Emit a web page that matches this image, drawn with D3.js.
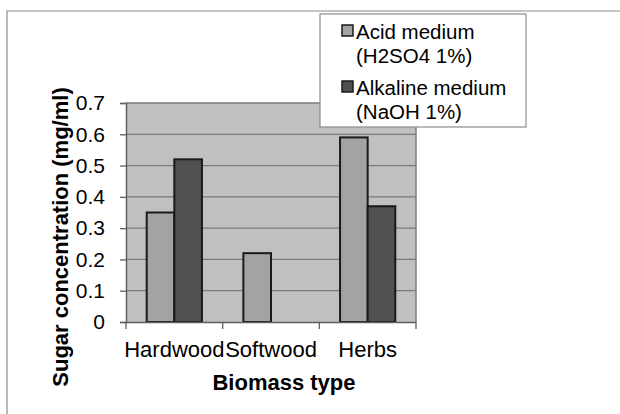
<!DOCTYPE html>
<html><head><meta charset="utf-8">
<script src="https://cdn.jsdelivr.net/npm/d3@7"></script>
<style>body{margin:0;background:#fff}svg{display:block}text{font-family:"Liberation Sans",Arial,sans-serif}</style>
</head><body>
<script>
const categories = ["Hardwood", "Softwood", "Herbs"];
const seriesNames = ["Acid medium (H2SO4 1%)", "Alkaline medium (NaOH 1%)"];
const legendLines = [["Acid medium", "(H2SO4 1%)"], ["Alkaline medium", "(NaOH 1%)"]];
const acidValues = [0.35, 0.22, 0.59];
const alkalineValues = [0.52, 0, 0.37];
const yTicks = [0, 0.1, 0.2, 0.3, 0.4, 0.5, 0.6, 0.7];
const colors = ["#a3a3a6", "#505050"];
const yTitle = "Sugar concentration (mg/ml)";
const xTitle = "Biomass type";

const W = 620, H = 414;
const svg = d3.select("body").append("svg").attr("width", W).attr("height", H);
// outer chart border
svg.append("path").attr("d", `M7,${H} V11 H${W}`).attr("fill","none").attr("stroke","#8c8c8c").attr("stroke-width",1.2);

const m = {l:126, t:103, r:416, b:322};
const x0 = d3.scaleBand().domain(categories).range([m.l, m.r]).paddingInner(0).paddingOuter(0);
const y = d3.scaleLinear().domain([0, 0.7]).range([m.b, m.t]);
// gap width 150% -> bars take 2/(2+1.5)
const groupW = x0.bandwidth() * 2 / 3.5;
const x1 = d3.scaleBand().domain([0,1]).range([0, groupW]);

svg.append("rect").attr("x", m.l).attr("y", m.t).attr("width", m.r-m.l).attr("height", m.b-m.t).attr("fill", "#c0c0c3");
// gridlines
svg.append("g").selectAll("line").data(yTicks.slice(1)).join("line")
  .attr("x1", m.l).attr("x2", m.r).attr("y1", d=>y(d)).attr("y2", d=>y(d))
  .attr("stroke", "#7a7a7a").attr("stroke-width", 1.3);
// plot right border
svg.append("line").attr("x1", m.r).attr("x2", m.r).attr("y1", m.t).attr("y2", m.b).attr("stroke","#808080").attr("stroke-width",1.5);

const data = categories.map((c,i)=>({c, v:[acidValues[i], alkalineValues[i]]}));
const g = svg.append("g").selectAll("g").data(data).join("g")
  .attr("transform", d=>`translate(${x0(d.c) + (x0.bandwidth()-groupW)/2},0)`);
g.selectAll("rect").data(d=>d.v.map((v,k)=>({v,k})).filter(o=>o.v>0)).join("rect")
  .attr("x", o=>x1(o.k)).attr("width", x1.bandwidth())
  .attr("y", o=>y(o.v)).attr("height", o=>y(0)-y(o.v))
  .attr("fill", o=>colors[o.k]).attr("stroke", "#1a1a1a").attr("stroke-width", 2);

// y axis
const yAxis = svg.append("g").attr("transform", `translate(${m.l},0)`)
  .call(d3.axisLeft(y).tickValues(yTicks).tickSize(6).tickPadding(15).tickFormat(d=> d===0?"0":d3.format(".1f")(d)));
yAxis.select(".domain").attr("stroke","#606060").attr("stroke-width",1.5);
yAxis.selectAll(".tick line").attr("stroke","#606060").attr("stroke-width",1.3);
yAxis.selectAll("text").attr("font-size", 21).attr("fill","#000").attr("font-family","Liberation Sans, Arial, sans-serif");

// x axis
const xAxis = svg.append("g").attr("transform", `translate(0,${m.b})`)
  .call(d3.axisBottom(x0).tickSize(0).tickPadding(19));
xAxis.select(".domain").attr("stroke","#606060").attr("stroke-width",1.5);
xAxis.selectAll("text").attr("font-size", 22).attr("fill","#000").attr("font-family","Liberation Sans, Arial, sans-serif");
svg.append("g").selectAll("line").data(categories.map(c=>x0(c)).concat([m.r])).join("line")
  .attr("x1", d=>d).attr("x2", d=>d).attr("y1", m.b).attr("y2", m.b+7)
  .attr("stroke","#606060").attr("stroke-width",1.3);

// titles
svg.append("text").attr("x", 284).attr("y", 390).attr("text-anchor","middle")
  .attr("font-size", 22).attr("font-weight","bold").text(xTitle);
svg.append("text").attr("transform", "translate(68,237) rotate(-90)").attr("text-anchor","middle")
  .attr("font-size", 22).attr("font-weight","bold").text(yTitle);

// legend
const lg = svg.append("g");
lg.append("rect").attr("x", 320).attr("y", 14).attr("width", 206).attr("height", 113)
  .attr("fill","#fff").attr("stroke","#8c8c8c").attr("stroke-width",1.2);
const rowY = [39, 95];
legendLines.forEach((lines, i)=>{
  lg.append("rect").attr("x", 342).attr("y", rowY[i]-14).attr("width", 11).attr("height", 11)
    .attr("fill", colors[i]).attr("stroke","#1a1a1a").attr("stroke-width",1.5);
  lines.forEach((t, j)=>{
    lg.append("text").attr("x", 356).attr("y", rowY[i] + j*24).attr("font-size", 20.5).text(t);
  });
});
</script>
</body></html>
